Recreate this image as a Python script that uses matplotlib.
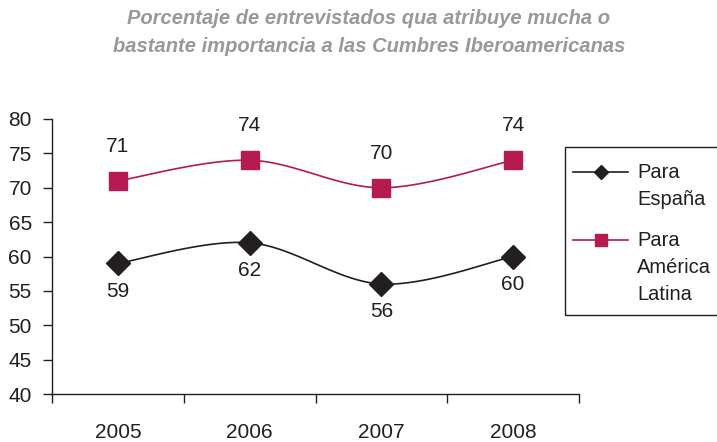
import numpy as np
import matplotlib
matplotlib.use("Agg")
import matplotlib.pyplot as plt
from matplotlib.lines import Line2D
from matplotlib.patches import Rectangle

plt.rcParams['font.family'] = ['Liberation Sans', 'DejaVu Sans']

years = ["2005", "2006", "2007", "2008"]
espana = [59, 62, 56, 60]
america = [71, 74, 70, 74]
series_labels = [["Para", "España"], ["Para", "América", "Latina"]]
title_lines = ["Porcentaje de entrevistados qua atribuye mucha o",
               "bastante importancia a las Cumbres Iberoamericanas"]

W, H = 717, 442
fig = plt.figure(figsize=(W / 100, H / 100), dpi=100)
fig.patch.set_facecolor("white")

left, right, top, bottom = 52, 579, 119, 394
ax = fig.add_axes([left / W, 1 - bottom / H, (right - left) / W, (bottom - top) / H])

dark = "#231F20"
pink = "#B51A50"
fs = 15


def catmull_rom(xs, ys, n=40):
    xs = np.asarray(xs, float)
    ys = np.asarray(ys, float)
    px = np.concatenate([[xs[0]], xs, [xs[-1]]])
    py = np.concatenate([[ys[0]], ys, [ys[-1]]])
    outx, outy = [], []
    t = np.linspace(0, 1, n)
    for i in range(1, len(px) - 2):
        for p, out in ((px, outx), (py, outy)):
            p0, p1, p2, p3 = p[i - 1], p[i], p[i + 1], p[i + 2]
            seg = 0.5 * ((2 * p1) + (-p0 + p2) * t + (2 * p0 - 5 * p1 + 4 * p2 - p3) * t ** 2
                         + (-p0 + 3 * p1 - 3 * p2 + p3) * t ** 3)
            out.extend(seg)
    return np.array(outx), np.array(outy)


x = np.arange(1, len(years) + 1)

sx, sy = catmull_rom(x, espana)
ax.plot(sx, sy, color=dark, lw=1.2, zorder=2)
ax.plot(x, espana, linestyle="none", marker="D", markersize=12, color=dark, zorder=3)

sx, sy = catmull_rom(x, america)
ax.plot(sx, sy, color=pink, lw=1.2, zorder=2)
ax.plot(x, america, linestyle="none", marker="s", markersize=13, color=pink, zorder=3)

for xi, v in zip(x, espana):
    ax.annotate(str(v), (xi, v), xytext=(0, -20), textcoords="offset points",
                ha="center", va="center", fontsize=fs, color=dark)
for xi, v in zip(x, america):
    ax.annotate(str(v), (xi, v), xytext=(0, 25), textcoords="offset points",
                ha="center", va="center", fontsize=fs, color=dark)

ax.set_xlim(0.5, len(years) + 0.5)
ax.set_ylim(40, 80)
ax.set_yticks(np.arange(40, 81, 5))
ax.tick_params(axis="y", direction="out", length=6.5, width=1, colors=dark,
               labelsize=fs, pad=8)
ax.set_xticks(np.arange(0.5, len(years) + 1, 1))
ax.set_xticklabels([])
ax.set_xticks(x, minor=True)
ax.set_xticklabels(years, minor=True)
ax.tick_params(axis="x", which="major", direction="out", length=6.5, width=1, colors=dark)
ax.tick_params(axis="x", which="minor", length=0, labelsize=fs, pad=21, colors=dark)

for s in ("top", "right"):
    ax.spines[s].set_visible(False)
for s in ("left", "bottom"):
    ax.spines[s].set_color(dark)
    ax.spines[s].set_linewidth(1)

for i, line in enumerate(title_lines):
    fig.text(369 / W, 1 - (18 + 28 * i) / H, line, ha="center", va="center",
             fontsize=14.5, fontweight="bold", fontstyle="italic", color="#999999")

# legend (drawn in figure pixel coordinates, box runs off the right edge)
def fx(px):
    return px / W


def fy(py):
    return 1 - py / H


fig.patches.append(Rectangle((fx(565), fy(315)), fx(740) - fx(565), fy(147) - fy(315),
                             transform=fig.transFigure, fill=False, edgecolor=dark,
                             lw=1, clip_on=False))
legend_specs = [(dark, "D", 7, 172), (pink, "s", 8, 240)]
for (color, marker, ms, ycen), lines in zip(legend_specs, series_labels):
    fig.add_artist(Line2D([fx(573), fx(628)], [fy(ycen), fy(ycen)], color=color, lw=1.2,
                          transform=fig.transFigure))
    fig.add_artist(Line2D([fx(600.5)], [fy(ycen)], color=color, marker=marker,
                          markersize=ms, linestyle="none", transform=fig.transFigure))
    for j, t in enumerate(lines):
        fig.text(fx(637), fy(ycen + 1 + 26.5 * j), t, ha="left", va="center",
                 fontsize=14.5, color=dark)

fig.savefig("out.png", dpi=100)
